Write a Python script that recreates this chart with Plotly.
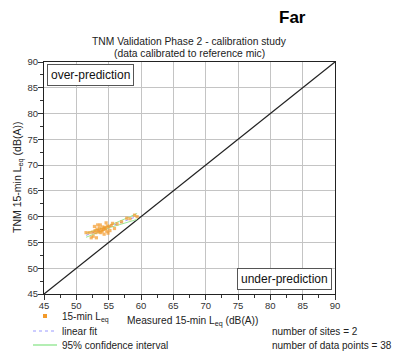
import numpy as np
import plotly.graph_objects as go

# ---- data ----
measured = [51.5, 52.0, 52.3, 52.5, 52.6, 52.8, 52.9, 53.0, 53.1, 53.2,
            53.3, 53.4, 53.5, 53.6, 53.7, 53.8, 53.9, 54.0, 54.1, 54.2,
            54.3, 54.4, 54.5, 54.6, 54.7, 54.8, 54.9, 55.0, 55.2, 55.4,
            55.6, 55.9, 56.3, 57.0, 57.8, 58.3, 59.0, 59.4]
tnm = [56.9, 56.9, 55.9, 57.0, 56.2, 58.1, 57.3, 56.9, 55.9, 57.6,
       58.4, 57.3, 57.0, 57.8, 58.4, 56.9, 57.5, 57.2, 58.0, 57.5,
       56.6, 57.9, 57.7, 58.8, 57.2, 58.2, 56.8, 58.0, 57.3, 58.3,
       58.7, 57.7, 58.6, 59.0, 59.7, 59.6, 60.3, 60.0]
diag = [45, 90]
tick_vals = [45, 50, 55, 60, 65, 70, 75, 80, 85, 90]

# ---- fit and 95% CI ----
x = np.array(measured)
y = np.array(tnm)
n = len(x)
b, a = np.polyfit(x, y, 1)
xf = np.linspace(x.min(), x.max(), 60)
yf = a + b * xf
res = y - (a + b * x)
s = np.sqrt(np.sum(res ** 2) / (n - 2))
t = 2.028
se = s * np.sqrt(1 / n + (xf - x.mean()) ** 2 / np.sum((x - x.mean()) ** 2))
upper = yf + t * se
lower = yf - t * se

fig = go.Figure()
fig.add_trace(go.Scatter(x=diag, y=diag, mode="lines",
                         line=dict(color="#222222", width=1.3), hoverinfo="skip"))
fig.add_trace(go.Scatter(x=xf, y=upper, mode="lines",
                         line=dict(color="#9be89b", width=1)))
fig.add_trace(go.Scatter(x=xf, y=lower, mode="lines",
                         line=dict(color="#9be89b", width=1)))
fig.add_trace(go.Scatter(x=xf, y=yf, mode="lines",
                         line=dict(color="#9a9aff", width=1, dash="dot")))
fig.add_trace(go.Scatter(x=measured, y=tnm, mode="markers",
                         marker=dict(symbol="square", size=3.2, color="#f39a2a",
                                     opacity=0.7, line=dict(width=0))))

FONT = "Liberation Sans, Arial, sans-serif"
axis_common = dict(
    range=[45, 90], tickvals=tick_vals, ticks="outside", ticklen=5,
    tickcolor="#333", tickfont=dict(size=9.5, color="#333", family=FONT),
    showgrid=True, gridcolor="#c4c4c4", gridwidth=1,
    showline=True, linecolor="#222", linewidth=1, mirror=True,
    zeroline=False, fixedrange=True, ticklabelstandoff=-2,
    minor=dict(dtick=2.5, ticks="outside", ticklen=3, tickcolor="#333", showgrid=False),
)
fig.update_xaxes(**axis_common)
fig.update_yaxes(**axis_common)

def px_x(px):
    return (px - 44) / 291.0

def px_y(py):
    return (294 - py) / 232.0

ann = [
    dict(text="<b>Far</b>", x=px_x(292), y=px_y(18), font=dict(size=17, color="#000")),
    dict(text="TNM Validation Phase 2 - calibration study", x=0.5, y=px_y(41),
         font=dict(size=10.3, color="#222")),
    dict(text="(data calibrated to reference mic)", x=0.5, y=px_y(53),
         font=dict(size=10.3, color="#222")),
    dict(text="TNM 15-min L<sub>eq</sub> (dB(A))", x=px_x(18), y=0.5, textangle=-90,
         font=dict(size=10.5, color="#222")),
    dict(text="Measured 15-min L<sub>eq</sub> (dB(A))", x=px_x(192), y=px_y(321),
         font=dict(size=10.2, color="#222")),
    dict(text="15-min L<sub>eq</sub>", x=px_x(60), y=px_y(317), xanchor="left",
         font=dict(size=10, color="#222")),
    dict(text="linear fit", x=px_x(60), y=px_y(331), xanchor="left",
         font=dict(size=10, color="#222")),
    dict(text="95% confidence interval", x=px_x(60), y=px_y(345), xanchor="left",
         font=dict(size=10, color="#222")),
    dict(text="number of sites = 2", x=px_x(270), y=px_y(331), xanchor="left",
         font=dict(size=10, color="#222")),
    dict(text="number of data points = 38", x=px_x(270), y=px_y(345), xanchor="left",
         font=dict(size=10, color="#222")),
]
annotations = []
for a_ in ann:
    d = dict(xref="paper", yref="paper", showarrow=False,
             xanchor=a_.pop("xanchor", "center"), yanchor="middle")
    d.update(a_)
    d["font"] = dict(family=FONT, **d["font"])
    annotations.append(d)

annotations.append(dict(text="over-prediction", xref="x", yref="y", x=45.45, y=89.65,
                        xanchor="left", yanchor="top", showarrow=False,
                        font=dict(family=FONT, size=12, color="#111"),
                        bgcolor="white", bordercolor="#555", borderwidth=1, borderpad=3))
annotations.append(dict(text="under-prediction", xref="x", yref="y", x=89.55, y=45.7,
                        xanchor="right", yanchor="bottom", showarrow=False,
                        font=dict(family=FONT, size=12, color="#111"),
                        bgcolor="white", bordercolor="#555", borderwidth=1, borderpad=3))

shapes = [
    dict(type="rect", xref="paper", yref="paper",
         x0=px_x(43), x1=px_x(47), y0=px_y(318), y1=px_y(314),
         fillcolor="#f39a2a", line=dict(width=0)),
    dict(type="line", xref="paper", yref="paper",
         x0=px_x(33), x1=px_x(57), y0=px_y(331), y1=px_y(331),
         line=dict(color="#9a9aff", width=1, dash="dot")),
    dict(type="line", xref="paper", yref="paper",
         x0=px_x(33), x1=px_x(57), y0=px_y(345), y1=px_y(345),
         line=dict(color="#9be89b", width=1.5)),
]

fig.update_layout(
    width=400, height=357,
    margin=dict(l=44, r=65, t=62, b=63),
    paper_bgcolor="white", plot_bgcolor="white",
    showlegend=False,
    annotations=annotations, shapes=shapes,
    font=dict(family=FONT, size=11, color="#222"),
)

fig.write_html("out.html", config={"displayModeBar": False},
               post_script="document.body.style.margin='0px';")
